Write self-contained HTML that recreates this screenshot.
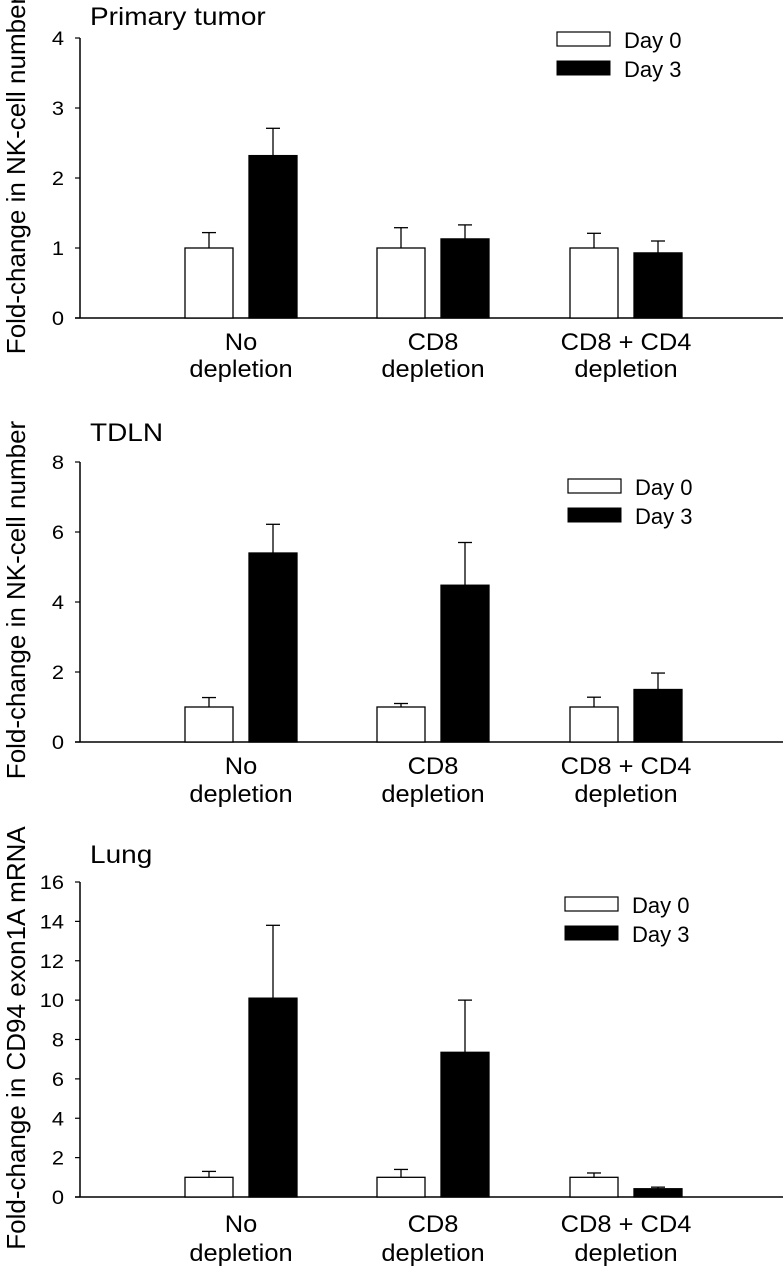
<!DOCTYPE html>
<html><head><meta charset="utf-8"><style>
body{margin:0;background:#fff}
svg{display:block;font-family:"Liberation Sans",sans-serif}
</style></head><body>
<svg id="c" width="783" height="1266"></svg>
<script>
const categories=[["No","depletion"],["CD8","depletion"],["CD8 + CD4","depletion"]];
const titles=["Primary tumor","TDLN","Lung"];
const yTitles=["Fold-change in NK-cell number","Fold-change in NK-cell number","Fold-change in CD94 exon1A mRNA"];
const day0=[[1,1,1],[1,1,1],[1,1,1]];
const day0Err=[[1.22,1.29,1.21],[1.27,1.1,1.28],[1.3,1.4,1.22]];
const day3=[[2.32,1.13,0.93],[5.4,4.48,1.5],[10.1,7.35,0.42]];
const day3Err=[[2.71,1.33,1.10],[6.22,5.7,1.97],[13.8,10.0,0.5]];
const yTicks=[[0,1,2,3,4],[0,2,4,6,8],[0,2,4,6,8,10,12,14,16]];
const yMax=[4,8,16];
const P=[{y0:318,y1:38,leg:[557,32],ty:25,ly:[341,368],tc:175},
         {y0:742,y1:462,leg:[568,479],ty:441,ly:[765,793],tc:600},
         {y0:1197,y1:882,leg:[565,897],ty:863,ly:[1223,1252],tc:1038}];
const groupX=[185,377,570];
const NS="http://www.w3.org/2000/svg";
const svg=document.getElementById('c');
function el(t,a,txt){const e=document.createElementNS(NS,t);for(const k in a)e.setAttribute(k,a[k]);if(txt!=null)e.textContent=txt;svg.appendChild(e);return e;}
function ctext(x,y,s,txt,anchor,sx){return el('text',{x:0,y:0,'font-size':s,'text-anchor':anchor||'start',transform:`translate(${x},${y}) scale(${sx||1},1)`},txt);}
P.forEach((p,i)=>{
  const ys=v=>p.y0-(p.y0-p.y1)*v/yMax[i];
  let e=ctext(90,p.ty,25,titles[i],'start',1.12);
  
  
  e=el('line',{x1:80,y1:p.y1,x2:80,y2:p.y0,stroke:'#000','stroke-width':1.5});
  
  
  e=el('line',{x1:75,y1:p.y0,x2:783,y2:p.y0,stroke:'#000','stroke-width':1.5});
  
  
  yTicks[i].forEach(t=>{
    const y=ys(t);
    el('line',{x1:75,y1:y,x2:80,y2:y,stroke:'#000','stroke-width':1.2});
    e=ctext(64,y+7,19,t,'end',1.15);
    
    
  });
  e=el('text',{x:0,y:0,'text-anchor':'middle','font-size':26,transform:`translate(25,${p.tc}) rotate(-90)`},yTitles[i]);
  
  
  categories.forEach((c,j)=>{
    const gx=groupX[j];
    [[day0,day0Err,'#fff',0],[day3,day3Err,'#000',64]].forEach(([v,er,fill,off])=>{
      const x=gx+off, top=ys(v[i][j]), et=ys(er[i][j]);
      el('line',{x1:x+24,y1:top,x2:x+24,y2:et,stroke:'#000','stroke-width':1.3});
      el('line',{x1:x+17,y1:et,x2:x+31,y2:et,stroke:'#000','stroke-width':1.3});
      const b=el('rect',{x:x,y:top,width:48,height:p.y0-top,fill:fill,stroke:'#000','stroke-width':1.3});
      
      
    });
    const cx=gx+56;
    e=ctext(cx,p.ly[0]+9,24,c[0],'middle',1.06);
    
    
    ctext(cx,p.ly[1]+9,24,c[1],'middle',1.06);
  });
  const [lx,ly]=p.leg;
  e=el('rect',{x:lx,y:ly,width:53,height:14,fill:'#fff',stroke:'#000','stroke-width':1.2});
  
  
  ctext(lx+67,ly+16,22,'Day 0');
  e=el('rect',{x:lx,y:ly+29,width:53,height:14,fill:'#000',stroke:'#000'});
  
  
  ctext(lx+67,ly+45,22,'Day 3');
});
</script>
</body></html>
